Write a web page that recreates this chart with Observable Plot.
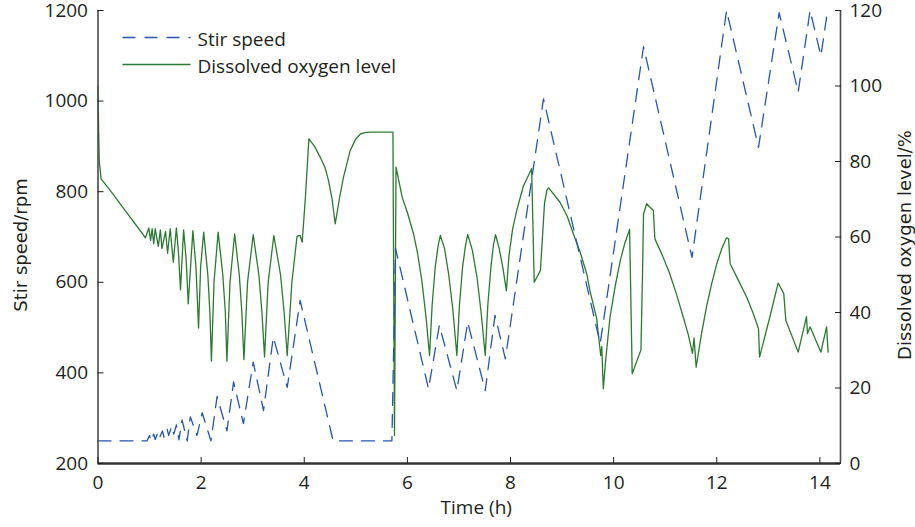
<!DOCTYPE html>
<html><head><meta charset="utf-8">
<script src="https://cdn.jsdelivr.net/npm/d3@7"></script>
<script src="https://cdn.jsdelivr.net/npm/@observablehq/plot@0.6"></script>
<style>
body{margin:0;background:#fff}
#chart{width:915px;height:527px}
</style>
</head><body><div id="chart"></div>
<script>
// Stir speed (rpm) over time (h)
const stirTime  = [0, 0.95, 1.00, 1.03, 1.08, 1.11, 1.16, 1.19, 1.25, 1.28, 1.34, 1.37, 1.43, 1.47, 1.52, 1.57, 1.63, 1.73, 1.79, 1.92, 2.02, 2.19, 2.31, 2.50, 2.63, 2.82, 3.01, 3.21, 3.40, 3.67, 3.92, 4.56, 5.70, 5.77, 6.41, 6.62, 6.96, 7.17, 7.51, 7.70, 7.90, 8.64, 9.74, 10.58, 11.52, 12.19, 12.81, 13.21, 13.58, 13.81, 14.02, 14.15];
const stirSpeed = [250, 250, 262, 250, 265, 253, 268, 256, 272, 258, 276, 262, 282, 265, 285, 252, 296, 250, 303, 262, 312, 250, 348, 272, 380, 288, 424, 317, 479, 368, 560, 250, 250, 675, 365, 505, 361, 512, 361, 527, 431, 1005, 465, 1120, 655, 1200, 898, 1195, 1020, 1200, 1100, 1200];

// Dissolved oxygen level (%) over time (h)
const doTime  = [0, 0.01, 0.025, 0.06, 0.24, 0.5, 0.92,
  0.985, 1.02, 1.05, 1.08, 1.11, 1.17, 1.21, 1.24, 1.31, 1.35, 1.40, 1.46, 1.52, 1.56, 1.60, 1.66, 1.71, 1.75,
  1.84, 1.90, 1.95, 1.99, 2.05, 2.13, 2.17, 2.20, 2.25, 2.33, 2.42, 2.47, 2.50, 2.56, 2.65, 2.74, 2.79, 2.83, 2.90,
  3.01, 3.12, 3.18, 3.23, 3.30, 3.41, 3.54, 3.61, 3.67, 3.76, 3.86, 3.92, 3.96, 4.02, 4.09,
  4.20, 4.31, 4.40, 4.47, 4.54, 4.60, 4.68, 4.76, 4.89, 5.00, 5.09, 5.20, 5.30, 5.72, 5.75,
  5.78, 5.90, 6.00, 6.12, 6.20, 6.28, 6.36, 6.43, 6.48, 6.54, 6.60, 6.64, 6.72, 6.80, 6.88, 6.96,
  7.01, 7.07, 7.13, 7.17, 7.26, 7.35, 7.43, 7.51, 7.56, 7.62, 7.67, 7.71, 7.78, 7.85, 7.92,
  7.97, 8.04, 8.12, 8.25, 8.41, 8.46, 8.58, 8.62, 8.66, 8.71, 8.74,
  8.96, 9.10, 9.22, 9.35, 9.48, 9.54, 9.67, 9.73, 9.75, 9.77, 9.80,
  9.85, 9.93, 10.03, 10.13, 10.22, 10.31, 10.36, 10.53, 10.56, 10.58, 10.64, 10.77, 10.80,
  10.95, 11.09, 11.22, 11.35, 11.45, 11.53, 11.56, 11.60, 11.70, 11.80, 11.90, 12.00, 12.10, 12.19, 12.23, 12.26,
  12.42, 12.58, 12.70, 12.81, 12.83, 13.03, 13.19, 13.30, 13.34, 13.58, 13.74, 13.76, 13.81, 14.02, 14.13, 14.16];
const doLevel = [100, 90, 80, 75.4, 72.3, 67.5, 59.8,
  62.4, 59.1, 62.2, 58.2, 62.2, 57.5, 61.9, 56.9, 61.5, 55.7, 62.2, 53.3, 62.4, 56, 46.0, 61.9, 54, 42.3,
  61.7, 52, 35.9, 52, 61.3, 50, 40, 27.1, 48, 61.3, 50, 40, 27.1, 48, 60.8, 50, 40, 27.5, 48,
  60.6, 50, 40, 28.2, 48, 60.4, 50, 40, 28.6, 48, 60.2, 60.4, 58.6, 70, 86.0,
  84, 81.1, 78.5, 75, 70, 63.5, 70, 75.8, 82.9, 86, 87.3, 87.7, 87.8, 87.8, 7.4,
  78.5, 70.5, 66.5, 60.8, 55.5, 48.5, 39, 28.6, 42, 52, 58, 60.4, 57, 50.2, 41, 28.6,
  42, 52, 58, 60.7, 56.5, 49.4, 40, 28.6, 42, 52, 58, 60.6, 57, 52, 45.8,
  55, 62, 67.0, 73.5, 78.1, 48.0, 51.1, 60, 69, 72.6, 73.0,
  69.2, 65.5, 60.8, 56, 50.2, 45.8, 38.5, 31, 28.6, 31, 19.8,
  28, 38.8, 47, 53.8, 58.5, 62.0, 23.8, 30.1, 50, 66.1, 68.8, 67.0, 59.5,
  55, 50.2, 44.8, 38.8, 34, 29.2, 33.3, 25.5, 34, 41.4, 47.5, 52.9, 57, 59.8, 59.5, 52.9,
  48.5, 44.1, 40, 35.7, 28.2, 38.8, 47.8, 45.0, 37.9, 29.5, 38.9, 34.4, 36.2, 29.5, 36.2, 29.5];

const xTicks = [0, 2, 4, 6, 8, 10, 12, 14];
const leftTicks = [200, 400, 600, 800, 1000, 1200];
const rightTicks = [0, 20, 40, 60, 80, 100, 120];
const seriesNames = ["Stir speed", "Dissolved oxygen level"];
const axisTitles = {x: "Time (h)", left: "Stir speed/rpm", right: "Dissolved oxygen level/%"};

const leftDomain = [200, 1200];
const rightDomain = [0, 120];
const toLeft = v => leftDomain[0] + (v - rightDomain[0]) * (leftDomain[1] - leftDomain[0]) / (rightDomain[1] - rightDomain[0]);
const fromLeft = v => String(Math.round(rightDomain[0] + (v - leftDomain[0]) * (rightDomain[1] - rightDomain[0]) / (leftDomain[1] - leftDomain[0])));

const stir = stirTime.map((t, i) => ({t, v: stirSpeed[i]}));
const dox = doTime.map((t, i) => ({t, v: toLeft(doLevel[i])}));

const BLUE = "#2456b4", GREEN = "#2b7a30", AX = "#4a4a4a", TXT = "#231f20";

function legendMark(index, scales, values, dims) {
  const g = d3.create("svg:g");
  const x0 = dims.marginLeft + 25, x1 = x0 + 68;
  const rows = [
    {name: seriesNames[0], color: BLUE, dash: "13,9", y: 37.5},
    {name: seriesNames[1], color: GREEN, dash: null, y: 64.5}
  ];
  for (const r of rows) {
    g.append("line").attr("x1", x0).attr("x2", x1).attr("y1", r.y).attr("y2", r.y)
      .attr("stroke", r.color).attr("stroke-width", 1.3)
      .attr("stroke-dasharray", r.dash);
    g.append("text").attr("x", x1 + 7).attr("y", r.y + 8.5)
      .attr("text-anchor", "start")
      .attr("fill", TXT).attr("font-size", 19).attr("font-family", "'Open Sans', sans-serif")
      .text(r.name);
  }
  return g.node();
}

const chart = Plot.plot({
  width: 915,
  height: 527,
  marginLeft: 97.5,
  marginRight: 75,
  marginTop: 10,
  marginBottom: 64,
  style: {fontFamily: "'Open Sans', sans-serif", fontSize: "19px", color: TXT, background: "#fff", overflow: "visible"},
  x: {domain: [0, 14.4]},
  y: {domain: leftDomain},
  marks: [
    Plot.line(dox, {x: "t", y: "v", stroke: GREEN, strokeWidth: 1.3}),
    Plot.line(stir, {x: "t", y: "v", stroke: BLUE, strokeWidth: 1.3, strokeDasharray: "13,9"}),
    Plot.ruleX([0], {stroke: AX, strokeWidth: 1.6}),
    Plot.ruleX([14.4], {stroke: AX, strokeWidth: 1.6}),
    Plot.ruleY([200], {stroke: "#333", strokeWidth: 2.4}),
    Plot.axisX(xTicks, {tickSize: -6, tickPadding: 18, label: null, tickFormat: d => `${d}`}),
    Plot.axisY(leftTicks, {anchor: "left", tickSize: -6, tickPadding: 16, label: null, tickFormat: d => `${d}`}),
    Plot.axisY(rightTicks.map(toLeft), {anchor: "right", tickSize: -6, tickPadding: 15, label: null, tickFormat: fromLeft}),
    Plot.text([axisTitles.x], {frameAnchor: "bottom", dx: 7, dy: 50, fill: TXT, fontSize: 19}),
    Plot.text([axisTitles.left], {frameAnchor: "left", textAnchor: "middle", rotate: -90, dx: -77, dy: 8, fill: TXT, fontSize: 18, fontFamily: "'DejaVu Sans', sans-serif"}),
    Plot.text([axisTitles.right], {frameAnchor: "right", textAnchor: "middle", rotate: -90, dx: 65, dy: 8, fill: TXT, fontSize: 18, fontFamily: "'DejaVu Sans', sans-serif"}),
    legendMark
  ]
});
document.getElementById("chart").appendChild(chart);
</script>
</body></html>
